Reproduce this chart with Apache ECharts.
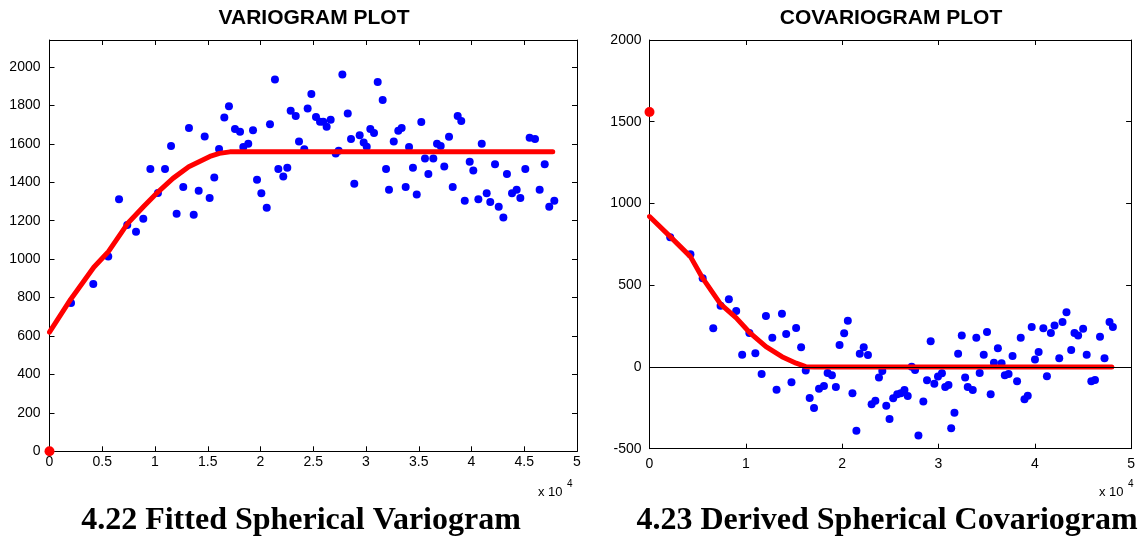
<!DOCTYPE html>
<html><head><meta charset="utf-8">
<script src="https://cdn.jsdelivr.net/npm/echarts@6/dist/echarts.min.js"></script>
<style>html,body{margin:0;padding:0;background:#fff}#c{width:1138px;height:539px}</style>
</head><body><div id="c"></div>
<script>
// Lags are in units of 10^4 (as on the axes)
const varioLag = [0.204,0.415,0.557,0.659,0.737,0.82,0.889,0.956,1.028,1.095,1.152,1.205,1.268,1.322,1.367,1.414,1.471,1.518,1.562,1.607,1.657,1.701,1.758,1.806,1.837,1.884,1.929,1.967,2.008,2.059,2.09,2.137,2.169,2.216,2.254,2.286,2.334,2.365,2.415,2.447,2.482,2.526,2.564,2.595,2.627,2.665,2.713,2.741,2.776,2.827,2.858,2.889,2.94,2.978,3.007,3.041,3.076,3.111,3.158,3.19,3.218,3.263,3.306,3.338,3.376,3.408,3.445,3.481,3.524,3.559,3.591,3.638,3.673,3.708,3.742,3.787,3.822,3.869,3.903,3.936,3.983,4.017,4.065,4.097,4.144,4.178,4.223,4.258,4.302,4.336,4.384,4.428,4.463,4.51,4.551,4.602,4.646,4.694,4.737,4.785];
const varioVal = [772,871,1013,1312,1177,1142,1210,1469,1344,1469,1588,1236,1375,1682,1231,1356,1638,1318,1425,1573,1737,1795,1677,1663,1583,1600,1670,1413,1342,1267,1701,1934,1469,1430,1475,1772,1745,1612,1571,1783,1859,1739,1715,1715,1689,1725,1550,1564,1960,1757,1625,1392,1644,1607,1585,1677,1656,1922,1828,1469,1361,1612,1668,1682,1375,1583,1475,1336,1713,1524,1443,1524,1600,1588,1482,1637,1375,1745,1719,1304,1507,1461,1312,1600,1342,1297,1493,1272,1217,1443,1342,1361,1318,1469,1632,1625,1361,1493,1272,1304];
const varioFitLag = [0,0.2,0.42,0.56,0.74,0.89,1.03,1.17,1.32,1.52,1.61,1.71,4.77];
const varioFitVal = [620,790,958,1040,1185,1272,1350,1420,1480,1534,1550,1558,1558];
const varioOriginLag = [0];
const varioOriginVal = [0];

const covLag = [0.215,0.425,0.552,0.662,0.738,0.824,0.9,0.962,1.037,1.099,1.164,1.209,1.275,1.319,1.375,1.419,1.474,1.522,1.574,1.622,1.663,1.708,1.76,1.811,1.849,1.894,1.935,1.973,2.021,2.059,2.107,2.148,2.183,2.224,2.268,2.306,2.345,2.382,2.417,2.458,2.492,2.53,2.572,2.609,2.647,2.681,2.722,2.757,2.792,2.843,2.881,2.919,2.957,2.995,3.036,3.07,3.104,3.132,3.166,3.204,3.242,3.277,3.304,3.356,3.393,3.428,3.47,3.504,3.542,3.576,3.617,3.655,3.689,3.728,3.769,3.816,3.854,3.893,3.927,3.968,4.002,4.04,4.089,4.126,4.167,4.205,4.254,4.288,4.329,4.378,4.412,4.45,4.502,4.539,4.587,4.625,4.677,4.724,4.776,4.811];
const covVal = [794,690,543,237,375,414,343,75,208,84,-43,312,179,-139,326,202,-94,239,121,-22,-190,-251,-133,-116,-37,-51,-122,135,206,283,-161,-390,81,121,73,-228,-206,-65,-24,-237,-318,-192,-167,-161,-141,-177,2,-18,-420,-212,-82,157,-102,-59,-39,-122,-110,-375,-280,81,192,-65,-122,-141,179,-37,75,214,-167,26,114,23,-51,-43,67,-88,179,-198,-176,245,45,92,237,-57,208,253,53,275,335,104,208,192,233,75,-88,-80,185,53,275,245];
const covFitLag = [0,0.215,0.425,0.552,0.738,0.9,1.037,1.209,1.375,1.522,1.622,1.71,4.8];
const covFitVal = [920,797,675,543,384,300,212,124,63,23,2,0,0];
const covOriginLag = [0];
const covOriginVal = [1560];

const titles = ['VARIOGRAM PLOT', 'COVARIOGRAM PLOT'];
const captions = ['4.22 Fitted Spherical Variogram', '4.23 Derived Spherical Covariogram'];

const zip = (a, b) => a.map((v, i) => [v, b[i]]);
const FONT = '"Liberation Sans", Arial, sans-serif';
const plain = v => String(v);

function axisBase(extra) {
  return Object.assign({
    type: 'value',
    axisLine: { show: true, onZero: false, lineStyle: { color: '#000', width: 1 } },
    axisTick: { show: true, inside: true, length: 5, lineStyle: { color: '#000' } },
    splitLine: { show: false },
    axisLabel: { show: true, color: '#000', fontFamily: FONT, fontSize: 14, formatter: plain }
  }, extra);
}
function hiddenLabels(a) { a.axisLabel = { show: false }; return a; }
function lbl(margin, extra) {
  return Object.assign({ color: '#000', fontFamily: FONT, fontSize: 14, margin: margin, formatter: plain }, extra || {});
}

const chart = echarts.init(document.getElementById('c'), null, { renderer: 'canvas' });
const option = {
  animation: false,
  backgroundColor: '#fff',
  grid: [
    { left: 49.5, right: 561, top: 40, bottom: 87.7 },
    { left: 649.5, right: 4, top: 40, bottom: 90.3 }
  ],
  xAxis: [
    axisBase({ gridIndex: 0, position: 'bottom', min: 0, max: 5, interval: 0.5, axisLabel: lbl(4) }),
    hiddenLabels(axisBase({ gridIndex: 0, position: 'top', min: 0, max: 5, interval: 0.5 })),
    axisBase({ gridIndex: 1, position: 'bottom', min: 0, max: 5, interval: 1, axisLabel: lbl(8) }),
    hiddenLabels(axisBase({ gridIndex: 1, position: 'top', min: 0, max: 5, interval: 1 }))
  ],
  yAxis: [
    axisBase({ gridIndex: 0, position: 'left', min: 0, max: 2140, interval: 200, axisLabel: lbl(9, { showMaxLabel: false }) }),
    hiddenLabels(axisBase({ gridIndex: 0, position: 'right', min: 0, max: 2140, interval: 200 })),
    axisBase({ gridIndex: 1, position: 'left', min: -500, max: 2000, interval: 500, axisLabel: lbl(8) }),
    hiddenLabels(axisBase({ gridIndex: 1, position: 'right', min: -500, max: 2000, interval: 500 }))
  ],
  series: [
    { type: 'scatter', xAxisIndex: 0, yAxisIndex: 0, data: zip(varioLag, varioVal), symbol: 'circle', symbolSize: 8, itemStyle: { color: '#0000ff', opacity: 1 }, z: 3 },
    { type: 'line', xAxisIndex: 0, yAxisIndex: 0, data: zip(varioFitLag, varioFitVal), showSymbol: false, symbol: 'none', lineStyle: { color: '#ff0000', width: 5, cap: 'round', join: 'round' }, z: 4 },
    { type: 'scatter', xAxisIndex: 0, yAxisIndex: 0, data: zip(varioOriginLag, varioOriginVal), symbol: 'circle', symbolSize: 10, itemStyle: { color: '#ff0000', opacity: 1 }, clip: false, z: 10 },
    { type: 'scatter', xAxisIndex: 2, yAxisIndex: 2, data: zip(covLag, covVal), symbol: 'circle', symbolSize: 8, itemStyle: { color: '#0000ff', opacity: 1 }, z: 3,
      markLine: { silent: true, symbol: 'none', label: { show: false }, lineStyle: { color: '#000', width: 1, type: 'solid' }, data: [{ yAxis: 0 }] } },
    { type: 'line', xAxisIndex: 2, yAxisIndex: 2, data: zip(covFitLag, covFitVal), showSymbol: false, symbol: 'none', lineStyle: { color: '#ff0000', width: 5, cap: 'round', join: 'round' }, z: 4 },
    { type: 'scatter', xAxisIndex: 2, yAxisIndex: 2, data: zip(covOriginLag, covOriginVal), symbol: 'circle', symbolSize: 10, itemStyle: { color: '#ff0000', opacity: 1 }, clip: false, z: 10 }
  ],
  graphic: [
    { type: 'text', x: 314, y: 18, style: { text: titles[0], font: 'bold 21px ' + FONT, fill: '#000', textAlign: 'center', textVerticalAlign: 'middle' } },
    { type: 'text', x: 891, y: 18, style: { text: titles[1], font: 'bold 21px ' + FONT, fill: '#000', textAlign: 'center', textVerticalAlign: 'middle' } },
    { type: 'text', x: 301, y: 521, style: { text: captions[0], font: 'bold 32px "Liberation Serif", "Times New Roman", serif', fill: '#000', textAlign: 'center', textVerticalAlign: 'middle' } },
    { type: 'text', x: 887, y: 521, style: { text: captions[1], font: 'bold 32px "Liberation Serif", "Times New Roman", serif', fill: '#000', textAlign: 'center', textVerticalAlign: 'middle' } },
    { type: 'text', x: 538, y: 492, style: { text: 'x 10', font: '13px ' + FONT, fill: '#000', textVerticalAlign: 'middle' } },
    { type: 'text', x: 567, y: 484, style: { text: '4', font: '10px ' + FONT, fill: '#000', textVerticalAlign: 'middle' } },
    { type: 'text', x: 1099, y: 492, style: { text: 'x 10', font: '13px ' + FONT, fill: '#000', textVerticalAlign: 'middle' } },
    { type: 'text', x: 1128, y: 484, style: { text: '4', font: '10px ' + FONT, fill: '#000', textVerticalAlign: 'middle' } }
  ]
};
chart.setOption(option);
</script></body></html>
